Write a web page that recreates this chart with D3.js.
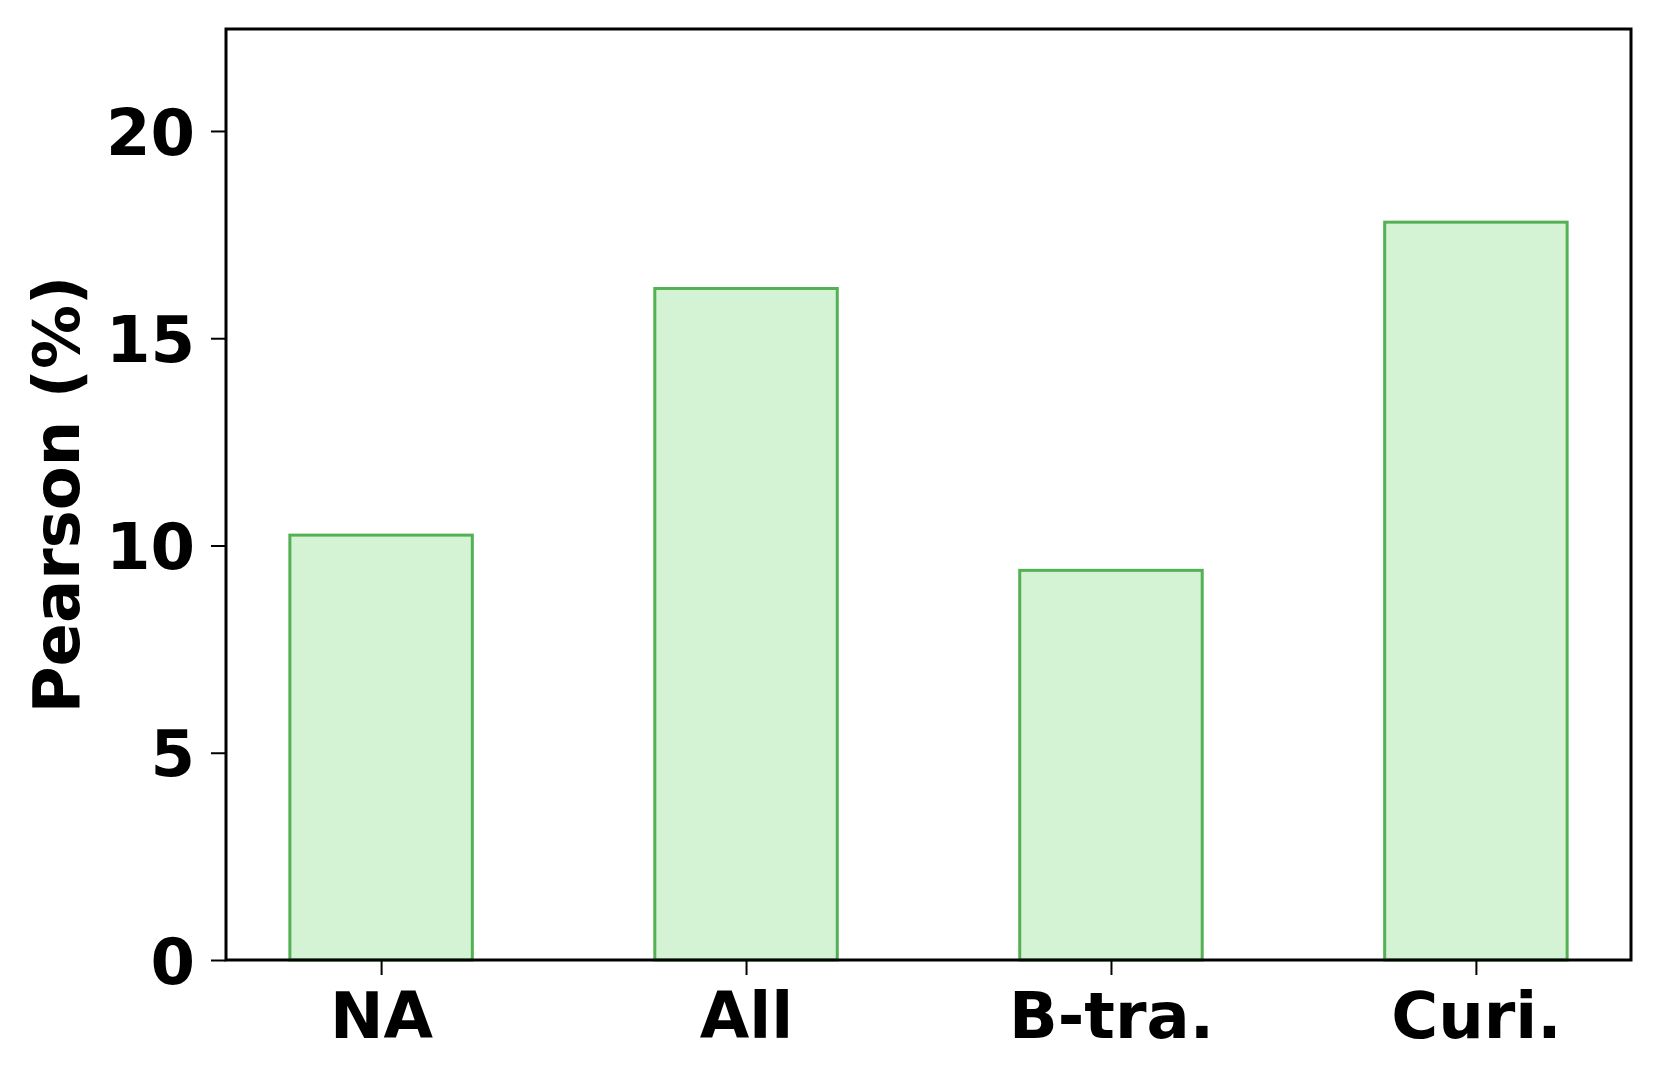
<!DOCTYPE html>
<html>
<head>
<meta charset="utf-8">
<script src="https://cdn.jsdelivr.net/npm/d3@7"></script>
<style>
    body { margin: 0; background: #fff; }
    text { font-family: "DejaVu Sans", sans-serif; font-weight: bold; }
</style>
</head>
<body>
<div id="chart"></div>
<script>
// values
const categories = ["NA", "All", "B-tra.", "Curi."];
const pearson = [10.25, 16.2, 9.4, 17.8];
const yTicks = [0, 5, 10, 15, 20];

const W = 1660, H = 1080;
const margin = {top: 29, right: 29, bottom: 120, left: 226},
    width = W - margin.left - margin.right,
    height = H - margin.top - margin.bottom;

const svg = d3.select("#chart")
    .append("svg")
    .attr("width", W)
    .attr("height", H)
    .append("g")
    .attr("transform", "translate(" + margin.left + "," + margin.top + ")");

// matplotlib-like linear x positions, bar width 0.5
var x = d3.scaleLinear()
    .domain([-0.425, categories.length - 1 + 0.425])
    .range([0, width]);

var y = d3.scaleLinear()
    .domain([0, 22.46])
    .range([height, 0]);

const barW = x(0.25) - x(-0.25);

svg.selectAll("rect.bar")
    .data(pearson)
    .enter()
    .append("rect")
    .attr("class", "bar")
    .attr("x", (d, i) => x(i) - barW / 2)
    .attr("y", d => y(d))
    .attr("width", barW)
    .attr("height", d => height - y(d))
    .attr("fill", "#d4f2d4")
    .attr("stroke", "#54b054")
    .attr("stroke-width", 3);

// x axis
const xAxis = svg.append("g")
    .attr("transform", "translate(0," + height + ")")
    .call(d3.axisBottom(x)
        .tickValues(d3.range(categories.length))
        .tickFormat(i => categories[i])
        .tickSize(15)
        .tickPadding(14));
xAxis.select(".domain").remove();
xAxis.selectAll("line").attr("stroke", "#000").attr("stroke-width", 2);
xAxis.selectAll("text")
    .attr("fill", "#000")
    .style("font-size", "64px")
    .attr("dy", "0.76em");

// y axis
const yAxis = svg.append("g")
    .call(d3.axisLeft(y)
        .tickValues(yTicks)
        .tickSize(15)
        .tickPadding(16));
yAxis.select(".domain").remove();
yAxis.selectAll("line").attr("stroke", "#000").attr("stroke-width", 2);
yAxis.selectAll("text")
    .attr("fill", "#000")
    .style("font-size", "64px")
    .attr("dy", "0.36em");

// frame
svg.append("rect")
    .attr("x", 0)
    .attr("y", 0)
    .attr("width", width)
    .attr("height", height)
    .attr("fill", "none")
    .attr("stroke", "#000")
    .attr("stroke-width", 3);

// y label
svg.append("text")
    .attr("transform", "translate(" + (79 - margin.left) + "," + (height / 2) + ") rotate(-90)")
    .attr("text-anchor", "middle")
    .style("font-size", "64px")
    .attr("fill", "#000")
    .text("Pearson (%)");
</script>
</body>
</html>
